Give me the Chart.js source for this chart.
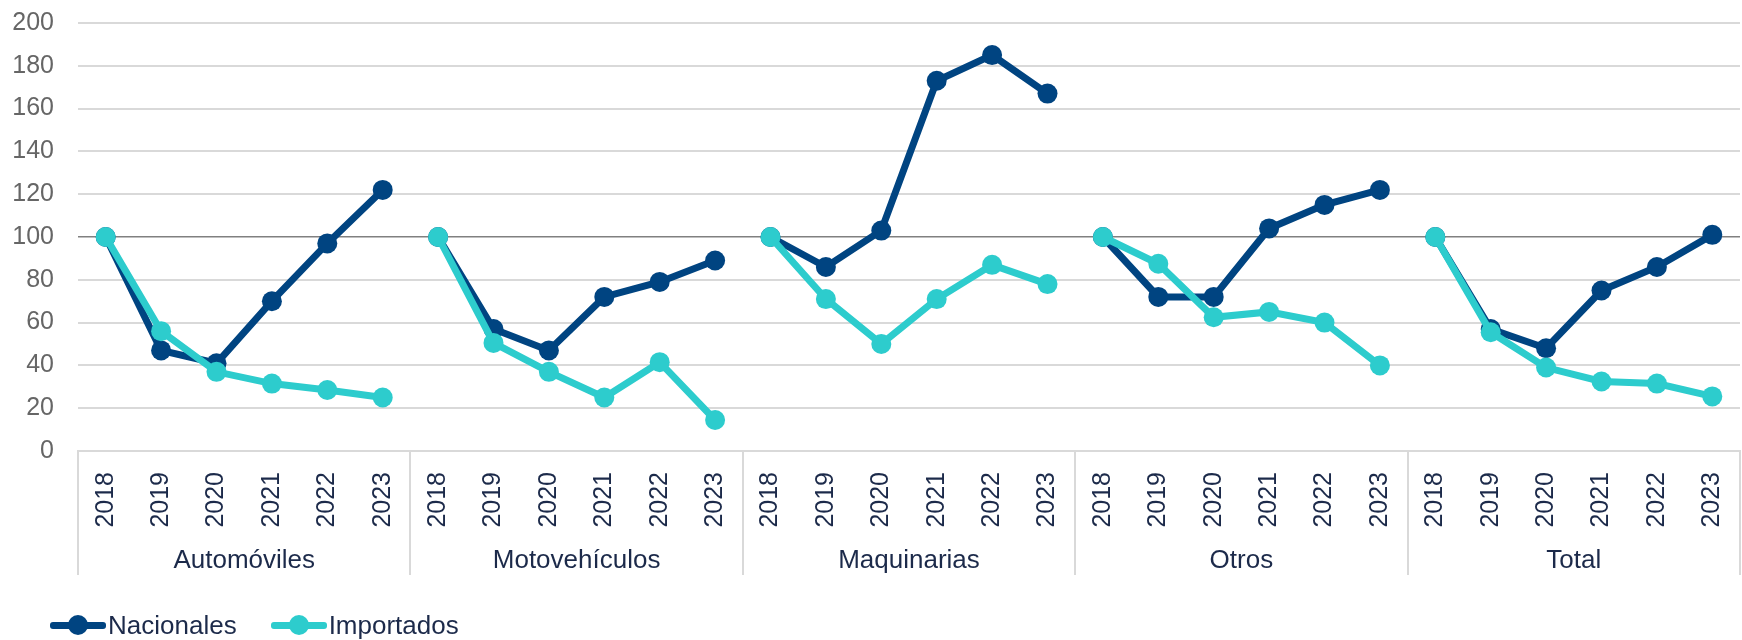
<!DOCTYPE html>
<html lang="es">
<head>
<meta charset="UTF-8">
<title>Nacionales vs Importados</title>
<script src="https://cdn.jsdelivr.net/npm/chart.js"></script>
<style>
  html, body { margin: 0; background: #fff; overflow: hidden; }
  .wrap { position: relative; width: 1742px; height: 640px; overflow: hidden; }
  .legend {
    position: absolute; left: 50px; top: 610px; height: 30px;
    display: flex; align-items: center;
    font: 26px "Liberation Sans", Arial, sans-serif; color: #1c2a4a;
  }
  .legend .item { display: flex; align-items: center; margin-right: 34px; }
  .legend .icon { position: relative; width: 56px; height: 30px; margin-right: 2px; }
  .legend .icon::before {
    content: ''; position: absolute; left: 0; right: 0; top: 11.5px; height: 7px;
    background: var(--c); border-radius: 3px;
  }
  .legend .icon::after {
    content: ''; position: absolute; left: 18px; top: 5px; width: 20px; height: 20px;
    border-radius: 50%; background: var(--c);
  }
</style>
</head>
<body>
<div class="wrap">
  <canvas id="chart"></canvas>
  <div class="legend">
    <div class="item"><span class="icon" style="--c:#004481"></span>Nacionales</div>
    <div class="item"><span class="icon" style="--c:#2DCCCD"></span>Importados</div>
  </div>
</div>

<script>
  // categorias y años
  const groups = ['Automóviles', 'Motovehículos', 'Maquinarias', 'Otros', 'Total'];
  const years = ['2018', '2019', '2020', '2021', '2022', '2023'];

  // indices (2018 = 100), un bloque de 6 años por grupo
  const nacionales = [
    100, 47, 41, 70, 97, 122,
    100, 57, 47, 72, 79, 89,
    100, 86, 103, 173, 185, 167,
    100, 72, 72, 104, 115, 122,
    100, 57, 48, 75, 86, 101
  ];
  const importados = [
    100, 56, 37, 31.5, 28.5, 25,
    100, 50.5, 37, 25, 41.5, 14.5,
    100, 71, 50, 71, 87, 78,
    100, 87.5, 62.5, 65, 60, 40,
    100, 55.5, 39, 32.5, 31.5, 25.5
  ];

  const yMin = 0, yMax = 200, yStep = 20;

  const labels = groups.flatMap(() => years);
  const FONT = '"Liberation Sans", Arial, sans-serif';

  // cortar la linea entre grupos
  const groupGap = ctx => (ctx.p0DataIndex % years.length === years.length - 1) ? 'transparent' : undefined;

  // sin relleno automatico de los ejes
  const noPad = scale => {
    scale.paddingLeft = 0; scale.paddingRight = 0;
    scale.paddingTop = 0; scale.paddingBottom = 0;
  };

  // separadores verticales bajo el eje
  const groupLines = {
    id: 'groupLines',
    afterDraw(chart) {
      const x = chart.scales.x, x2 = chart.scales.x2;
      const w = x.width / labels.length;
      const c = chart.ctx;
      c.save();
      c.strokeStyle = '#d9d9d9';
      c.lineWidth = 2;
      for (let k = 0; k <= groups.length; k++) {
        const px = Math.round(x.left + k * years.length * w);
        c.beginPath();
        c.moveTo(px, x.top);
        c.lineTo(px, x2.bottom + 1);
        c.stroke();
      }
      c.restore();
    }
  };

  new Chart(document.getElementById('chart'), {
    type: 'line',
    data: {
      labels: labels,
      datasets: [
        {
          label: 'Nacionales',
          data: nacionales,
          borderColor: '#004481',
          backgroundColor: '#004481',
          borderWidth: 7,
          pointRadius: 10,
          pointBorderWidth: 0,
          tension: 0,
          order: 1,
          segment: { borderColor: groupGap }
        },
        {
          label: 'Importados',
          data: importados,
          borderColor: '#2DCCCD',
          backgroundColor: '#2DCCCD',
          borderWidth: 7,
          pointRadius: 10,
          pointBorderWidth: 0,
          tension: 0,
          order: 0,
          segment: { borderColor: groupGap }
        }
      ]
    },
    options: {
      responsive: true,
      maintainAspectRatio: false,
      animation: false,
      layout: { autoPadding: false, padding: { left: 12, right: 2, top: 23, bottom: 66 } },
      scales: {
        y: {
          min: yMin,
          max: yMax,
          afterFit: scale => { noPad(scale); scale.width = 66; },
          ticks: { stepSize: yStep, padding: 24, color: '#666666', font: { family: FONT, size: 25 } },
          grid: {
            drawTicks: false,
            color: ctx => ctx.tick && ctx.tick.value === 100 ? '#808080' : '#d9d9d9',
            lineWidth: ctx => ctx.tick && ctx.tick.value === 100 ? 1.5 : 2
          },
          border: { display: false }
        },
        x: {
          weight: 0,
          offset: true,
          afterFit: scale => { noPad(scale); scale.height = 77; },
          ticks: {
            autoSkip: false, minRotation: 90, maxRotation: 90, padding: 21,
            color: '#1c2a4a', font: { family: FONT, size: 25 }
          },
          grid: { display: false, drawTicks: false },
          border: { display: true, color: '#d9d9d9', width: 2 }
        },
        x2: {
          type: 'category',
          position: 'bottom',
          weight: 1,
          labels: groups,
          offset: true,
          afterFit: scale => { noPad(scale); scale.height = 46; },
          ticks: { padding: 17, color: '#1c2a4a', font: { family: FONT, size: 26 } },
          grid: { display: false, drawTicks: false },
          border: { display: false }
        }
      },
      plugins: {
        legend: { display: false },
        tooltip: { enabled: false }
      }
    },
    plugins: [groupLines]
  });
</script>
</body>
</html>
